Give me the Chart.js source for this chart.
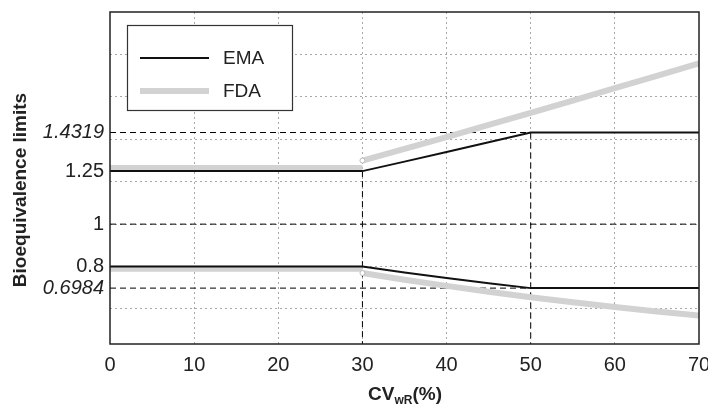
<!DOCTYPE html>
<html>
<head>
<meta charset="utf-8">
<script src="https://cdn.jsdelivr.net/npm/chart.js@4"></script>
<style>
  html, body { margin: 0; padding: 0; background: #fff; }
  #wrap { width: 708px; height: 406px; }
</style>
</head>
<body>
<div id="wrap"><canvas id="beChart" width="708" height="406"></canvas></div>
<script>
// DATA
const emaCv = [0, 30, 35, 40, 45, 50, 55, 60, 65, 70];
const emaUpper = [1.25, 1.25, 1.2948, 1.3402, 1.3859, 1.4319, 1.4319, 1.4319, 1.4319, 1.4319];
const emaLower = [0.8, 0.8, 0.7723, 0.7462, 0.7216, 0.6984, 0.6984, 0.6984, 0.6984, 0.6984];

const fdaFlatCv = [0, 30];
const fdaUpperFlat = [1.265, 1.265];
const fdaLowerFlat = [0.79, 0.79];

const fdaCv = [30, 35, 40, 45, 50, 55, 60, 65, 70];
const fdaUpper = [1.2998, 1.3547, 1.4106, 1.4674, 1.5248, 1.5826, 1.6408, 1.6991, 1.7574];
const fdaLower = [0.7694, 0.7382, 0.7089, 0.6815, 0.6558, 0.6319, 0.6095, 0.5885, 0.5690];

// open circles at the FDA jump
const jumpCv = [30, 30];
const jumpVal = [1.2998, 0.7694];

// dashed reference lines
const refH = [[0, 50, 1.4319], [0, 70, 1], [0, 70, 0.6984]];   // x0, x1, y
const refV = [[30, 1.25], [50, 1.4319]];                        // x, y top

const xTicks = [0, 10, 20, 30, 40, 50, 60, 70];
const yGridVals = [0.6, 0.8, 1, 1.2, 1.4, 1.6, 1.8];
const yLabelVals = [0.6984, 0.8, 1, 1.25, 1.4319];
const yItalic = [0.6984, 1.4319];
const yMin = 0.435, yMax = 2.0;

const FONT = "'Liberation Sans', Arial, Helvetica, sans-serif";
const GREY = '#d2d2d2';

const pts = (xs, ys) => xs.map((x, i) => ({ x: x, y: ys[i] }));

const datasets = [];
datasets.push({ data: pts(emaCv, emaUpper), borderColor: '#111', borderWidth: 2, pointRadius: 0 });
datasets.push({ data: pts(emaCv, emaLower), borderColor: '#111', borderWidth: 2, pointRadius: 0 });
datasets.push({ data: pts(jumpCv, jumpVal), showLine: false, pointRadius: 2.5,
  pointBackgroundColor: '#fff', pointBorderColor: '#bbb', pointBorderWidth: 1 });
datasets.push({ data: pts(fdaFlatCv, fdaUpperFlat), borderColor: GREY, borderWidth: 6, pointRadius: 0, borderCapStyle: 'butt' });
datasets.push({ data: pts(fdaFlatCv, fdaLowerFlat), borderColor: GREY, borderWidth: 6, pointRadius: 0, borderCapStyle: 'butt' });
datasets.push({ data: pts(fdaCv, fdaUpper), borderColor: GREY, borderWidth: 6, pointRadius: 0 });
datasets.push({ data: pts(fdaCv, fdaLower), borderColor: GREY, borderWidth: 6, pointRadius: 0 });
refH.forEach(r => datasets.push({ data: [{ x: r[0], y: r[2] }, { x: r[1], y: r[2] }],
  borderColor: '#000', borderWidth: 1, borderDash: [6, 4], pointRadius: 0 }));
refV.forEach(r => datasets.push({ data: [{ x: r[0], y: r[1] }, { x: r[0], y: yMin }],
  borderColor: '#000', borderWidth: 1, borderDash: [6, 4], pointRadius: 0 }));

// legend box, axis titles and frame
const decor = {
  id: 'decor',
  afterDraw(chart) {
    const ctx = chart.ctx;
    const a = chart.chartArea;
    ctx.save();
    // frame
    ctx.strokeStyle = '#222';
    ctx.lineWidth = 1.5;
    ctx.strokeRect(a.left, a.top, a.right - a.left, a.bottom - a.top);

    // legend
    ctx.fillStyle = '#fff';
    ctx.fillRect(127, 25, 165, 85);
    ctx.strokeStyle = '#333';
    ctx.lineWidth = 1.2;
    ctx.strokeRect(127.5, 25.5, 165, 85);
    ctx.lineWidth = 2;
    ctx.strokeStyle = '#111';
    ctx.beginPath(); ctx.moveTo(140, 58); ctx.lineTo(209, 58); ctx.stroke();
    ctx.lineWidth = 6;
    ctx.strokeStyle = GREY;
    ctx.beginPath(); ctx.moveTo(140, 91); ctx.lineTo(209, 91); ctx.stroke();
    ctx.fillStyle = '#222';
    ctx.font = '19px ' + FONT;
    ctx.textBaseline = 'middle';
    ctx.textAlign = 'left';
    ctx.fillText('EMA', 223, 59);
    ctx.fillText('FDA', 223, 92);

    // y title
    ctx.save();
    ctx.translate(21, 190);
    ctx.rotate(-Math.PI / 2);
    ctx.font = 'bold 19px ' + FONT;
    ctx.textAlign = 'center';
    ctx.fillText('Bioequivalence limits', 0, 0);
    ctx.restore();

    // x title with subscript
    ctx.textBaseline = 'alphabetic';
    const big = 'bold 19px ' + FONT, small = 'bold 12px ' + FONT;
    ctx.font = big; const w1 = ctx.measureText('CV').width, w3 = ctx.measureText('(%)').width;
    ctx.font = small; const w2 = ctx.measureText('wR').width;
    let x = 405 - (w1 + w2 + w3) / 2;
    const base = 400;
    ctx.font = big; ctx.fillText('CV', x, base); x += w1;
    ctx.font = small; ctx.fillText('wR', x, base + 4); x += w2;
    ctx.font = big; ctx.fillText('(%)', x, base);
    ctx.restore();
  }
};

new Chart(document.getElementById('beChart'), {
  type: 'line',
  data: { datasets: datasets },
  plugins: [decor],
  options: {
    responsive: false,
    animation: false,
    layout: { padding: { left: 0, right: 9, top: 12, bottom: 0 } },
    plugins: { legend: { display: false }, tooltip: { enabled: false } },
    scales: {
      x: {
        type: 'linear',
        min: 0, max: 70,
        afterBuildTicks: s => { s.ticks = xTicks.map(v => ({ value: v })); },
        afterFit: s => { s.height = 62; s.paddingLeft = 0; s.paddingRight = 0; },
        grid: { color: c => (c.tick && c.tick.value > 0 && c.tick.value < 70) ? '#a8a8a8' : 'rgba(0,0,0,0)',
                drawTicks: false, lineWidth: 1 },
        border: { display: false, dash: [2, 3] },
        ticks: { color: '#222', padding: 9, font: { size: 20, family: FONT }, autoSkip: false, maxRotation: 0 }
      },
      y: {
        type: 'linear',
        min: yMin, max: yMax,
        afterBuildTicks: s => {
          const vals = yGridVals.concat(yLabelVals.filter(v => yGridVals.indexOf(v) < 0)).sort((p, q) => p - q);
          s.ticks = vals.map(v => ({ value: v }));
        },
        afterFit: s => { s.width = 110; s.paddingTop = 0; s.paddingBottom = 0; },
        grid: { color: c => (c.tick && yGridVals.indexOf(c.tick.value) >= 0) ? '#a8a8a8' : 'rgba(0,0,0,0)',
                drawTicks: false, lineWidth: 1 },
        border: { display: false, dash: [2, 3] },
        ticks: {
          color: '#222', padding: 6, autoSkip: false,
          callback: v => yLabelVals.indexOf(v) >= 0 ? String(v) : '',
          font: c => ({ size: 20, family: FONT,
            style: (c.tick && yItalic.indexOf(c.tick.value) >= 0) ? 'italic' : 'normal' })
        }
      }
    }
  }
});
</script>
</body>
</html>
